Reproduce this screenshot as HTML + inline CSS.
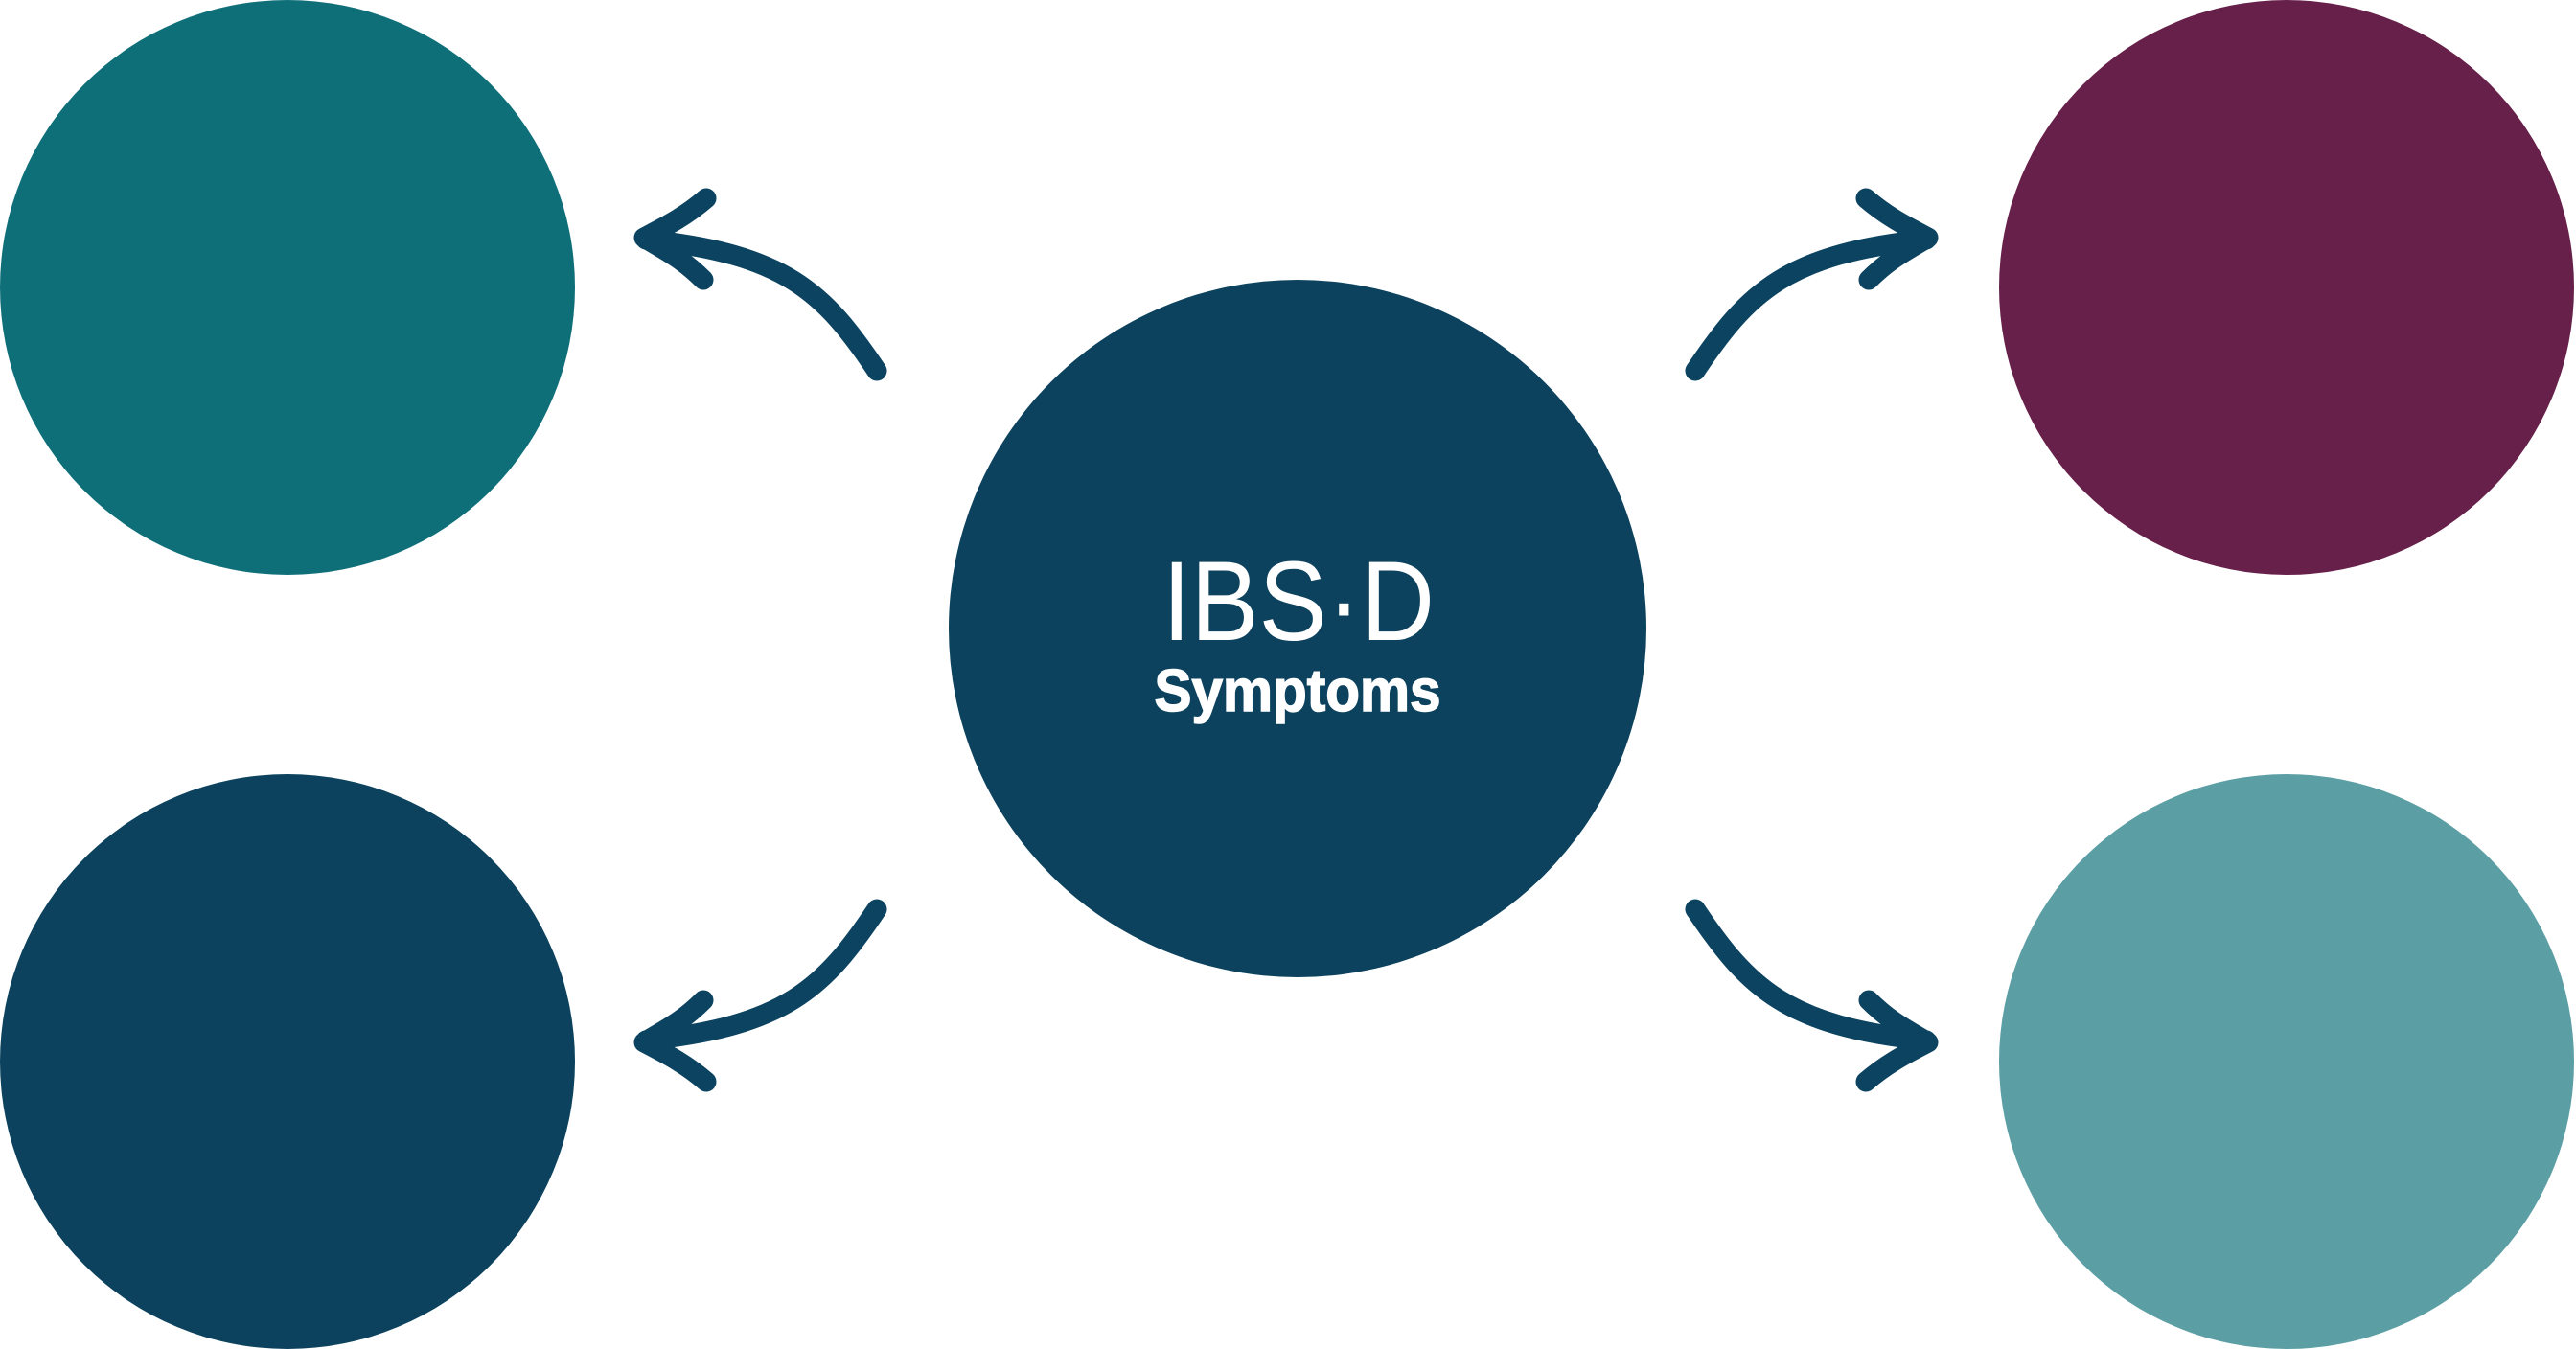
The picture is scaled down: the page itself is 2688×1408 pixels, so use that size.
<!DOCTYPE html>
<html><head><meta charset="utf-8"><style>
html,body{margin:0;padding:0;background:#fff;}
body{width:2688px;height:1408px;overflow:hidden;position:relative;}
svg{position:absolute;left:0;top:0;}
</style></head><body>
<svg width="2688" height="1408" viewBox="0 0 2688 1408" xmlns="http://www.w3.org/2000/svg">
<circle cx="300" cy="300" r="300" fill="#0f6f79"/>
<circle cx="2386" cy="300" r="300" fill="#66204a"/>
<circle cx="300" cy="1108" r="300" fill="#0c425d"/>
<circle cx="2386" cy="1108" r="300" fill="#5b9ea4"/>
<circle cx="1354" cy="656" r="364" fill="#0c425d"/>
<defs>
<g id="arr" fill="none" stroke="#0b4360" stroke-width="21" stroke-linecap="round" stroke-linejoin="round">
<path d="M915,387 C860,305 820,265 674,250"/>
<path d="M737,207 C715,226 695,236 672,248 C695,262 712,270 734,292"/>
<circle cx="675" cy="249" r="10" fill="#0b4360" stroke="none"/>
</g>
</defs>
<use href="#arr"/>
<use href="#arr" transform="translate(0,1336) scale(1,-1)"/>
<use href="#arr" transform="translate(2684,0) scale(-1,1)"/>
<use href="#arr" transform="translate(2684,1336) scale(-1,-1)"/>
<text x="1355" y="668" text-anchor="middle" font-family="'Liberation Sans', sans-serif" font-size="118" fill="#fff" textLength="284" lengthAdjust="spacingAndGlyphs">IBS·D</text>
<text x="1354" y="742" text-anchor="middle" font-family="'Liberation Sans', sans-serif" font-weight="bold" font-size="62" fill="#fff" stroke="#fff" stroke-width="1.5" textLength="299" lengthAdjust="spacingAndGlyphs">Symptoms</text>
</svg>
</body></html>
